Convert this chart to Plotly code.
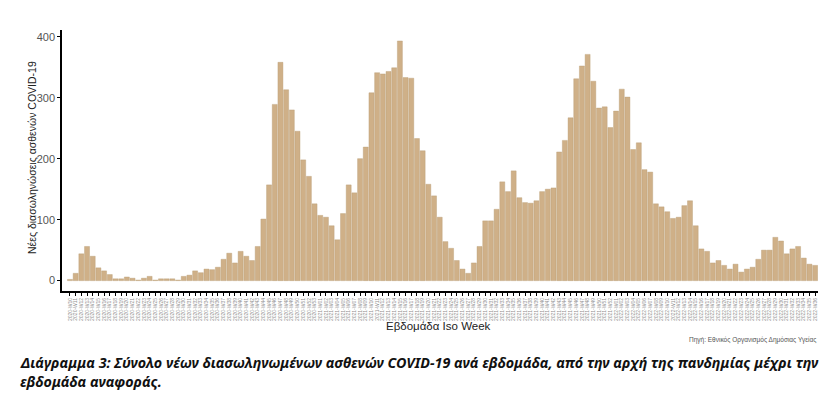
import datetime
import plotly.graph_objects as go

# Weekly new intubated COVID-19 patients, starting ISO week 2020-W10
start_year, start_week = 2020, 10
values = [
    2, 12, 44, 56, 40, 21, 16, 10, 3, 3,
    6, 4, 1, 4, 7, 1, 3, 3, 3, 1,
    7, 9, 16, 13, 19, 18, 22, 35, 45, 29,
    48, 40, 33, 56, 101, 157, 289, 358, 313, 280,
    245, 198, 171, 126, 107, 104, 90, 67, 110, 157,
    144, 200, 219, 308, 341, 339, 343, 349, 393, 333,
    332, 233, 213, 158, 139, 104, 64, 53, 33, 19,
    12, 29, 56, 98, 98, 117, 162, 146, 180, 136,
    128, 127, 131, 146, 150, 152, 211, 230, 267, 331,
    352, 371, 327, 283, 285, 251, 278, 314, 301, 215,
    226, 182, 178, 126, 121, 113, 102, 104, 123, 131,
    90, 52, 48, 29, 33, 25, 19, 27, 14, 19,
    22, 35, 50, 50, 71, 65, 44, 52, 56, 37,
    27, 25,
]

# ISO week category labels
monday = datetime.date.fromisocalendar(start_year, start_week, 1)
weeks = []
for i in range(len(values)):
    y, w, _ = (monday + datetime.timedelta(weeks=i)).isocalendar()
    weeks.append(f"{y}-W{w:02d}")

y_ticks = [0, 100, 200, 300, 400]
y_title = "Νέες διασωληνώσεις ασθενών COVID-19"
x_title = "Εβδομάδα Iso Week"
source = "Πηγή: Εθνικός Οργανισμός Δημόσιας Υγείας"
caption1 = "Διάγραμμα 3: Σύνολο νέων διασωληνωμένων ασθενών COVID-19 ανά εβδομάδα, από την αρχή της πανδημίας μέχρι την"
caption2 = "εβδομάδα αναφοράς."

fig = go.Figure(go.Bar(
    x=weeks, y=values,
    marker=dict(color="#cfb088", line=dict(color="#b89c74", width=0.4)),
    width=0.88,
))

L, R, T, B = 62, 22, 30, 107
W, H = 840, 398
pw, ph = W - L - R, H - T - B

def px(xp):
    return (xp - L) / pw

def py(yp):
    return (H - B - yp) / ph

fig.update_layout(
    width=W, height=H,
    margin=dict(l=L, r=R, t=T, b=B),
    plot_bgcolor="white", paper_bgcolor="white",
    showlegend=False,
    bargap=0.12,
    font=dict(family="Liberation Sans, Arial, sans-serif"),
)
fig.update_xaxes(
    type="category",
    tickmode="linear", tick0=0, dtick=1,
    range=[-1.4, len(values) - 0.5],
    showline=True, linecolor="black", linewidth=2,
    ticks="outside", ticklen=3, tickcolor="black", tickwidth=1,
    tickangle=-90, tickfont=dict(size=5, color="#8f8f8f"),
    showgrid=False, zeroline=False,
)
fig.update_yaxes(
    range=[-17, 411],
    tickvals=y_ticks,
    showline=True, linecolor="black", linewidth=1.5,
    ticks="outside", ticklen=3, tickcolor="black",
    tickfont=dict(size=11, color="#555555"),
    showgrid=False, zeroline=False,
)

anns = [
    dict(text=y_title, x=px(32), y=py(158), textangle=-90,
         font=dict(size=10.5, color="#222222")),
    dict(text=x_title, x=px(438), y=py(326),
         font=dict(size=11.5, color="#222222")),
    dict(text=source, x=px(818), y=py(340), xanchor="right",
         font=dict(size=6.5, color="#555555")),
    dict(text=f"<b><i>{caption1}</i></b>", x=px(18), y=py(362), xanchor="left",
         font=dict(size=14.3, color="#111111", family="Noto Sans")),
    dict(text=f"<b><i>{caption2}</i></b>", x=px(18), y=py(381), xanchor="left",
         font=dict(size=14.3, color="#111111", family="Noto Sans")),
]
for a in anns:
    a.setdefault("xanchor", "center")
    fig.add_annotation(xref="paper", yref="paper", yanchor="middle",
                       showarrow=False, **a)

fig.write_html("out.html")
